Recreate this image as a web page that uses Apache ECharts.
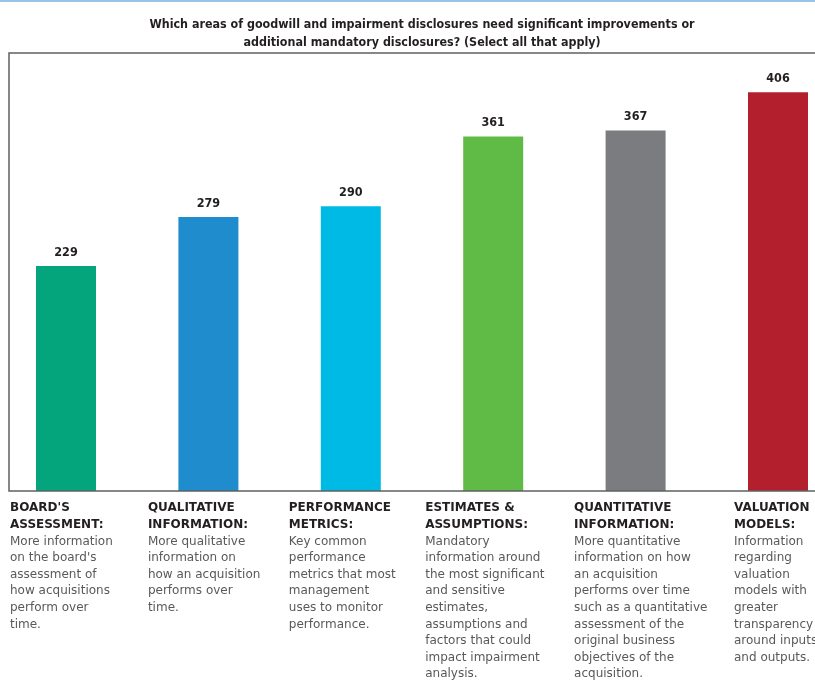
<!DOCTYPE html>
<html>
<head>
<meta charset="utf-8">
<script src="https://cdn.jsdelivr.net/npm/echarts@6/dist/echarts.min.js"></script>
<style>html,body{margin:0;padding:0;background:#fff}#c{width:815px;height:680px}</style>
</head>
<body>
<div id="c"></div>
<script>
const headers = [
  "BOARD'S\nASSESSMENT:",
  "QUALITATIVE\nINFORMATION:",
  "PERFORMANCE\nMETRICS:",
  "ESTIMATES &\nASSUMPTIONS:",
  "QUANTITATIVE\nINFORMATION:",
  "VALUATION\nMODELS:"
];
const descriptions = [
  "More information\non the board's\nassessment of\nhow acquisitions\nperform over\ntime.",
  "More qualitative\ninformation on\nhow an acquisition\nperforms over\ntime.",
  "Key common\nperformance\nmetrics that most\nmanagement\nuses to monitor\nperformance.",
  "Mandatory\ninformation around\nthe most significant\nand sensitive\nestimates,\nassumptions and\nfactors that could\nimpact impairment\nanalysis.",
  "More quantitative\ninformation on how\nan acquisition\nperforms over time\nsuch as a quantitative\nassessment of the\noriginal business\nobjectives of the\nacquisition.",
  "Information\nregarding\nvaluation\nmodels with\ngreater\ntransparency\naround inputs\nand outputs."
];
const values = [229, 279, 290, 361, 367, 406];
const palette = ['#04a57d', '#1f8dcd', '#00bae6', '#60bb46', '#7b7c80', '#b41f2e'];
const titleText = "Which areas of goodwill and impairment disclosures need significant improvements or\nadditional mandatory disclosures? (Select all that apply)";

const labelWidths = [112, 121, 124, 136, 123, 88];
const rich = {};
labelWidths.forEach((w, i) => {
  rich['h' + i] = {width: w, align: 'left', fontFamily: 'DejaVu Sans', fontWeight: 'bold', fontSize: 12, color: '#231f20', lineHeight: 16.6};
  rich['b' + i] = {width: w, align: 'left', fontFamily: 'DejaVu Sans', fontSize: 12, color: '#58595b', lineHeight: 16.6};
});

const chart = echarts.init(document.getElementById('c'), null, {renderer: 'canvas'});
chart.setOption({
  animation: false,
  backgroundColor: '#ffffff',
  title: {
    text: titleText,
    left: 417,
    textAlign: 'center',
    top: 11,
    textStyle: {fontFamily: 'DejaVu Sans Condensed', fontWeight: 'bold', fontSize: 12.4, color: '#231f20', lineHeight: 18}
  },
  graphic: [
    {type: 'line', shape: {x1: 0, y1: 1, x2: 815, y2: 1}, style: {stroke: '#9cc2e5', lineWidth: 2}},
    {type: 'rect', shape: {x: 9, y: 53, width: 830, height: 438}, style: {fill: 'none', stroke: '#5f6062', lineWidth: 1.5}, z: 10}
  ],
  grid: {left: 66, right: 37, top: 53, bottom: 189, outerBoundsMode: 'none', containLabel: false},
  xAxis: {
    type: 'category',
    boundaryGap: false,
    data: headers.map((h, i) => h + '\n' + descriptions[i]),
    axisLine: {show: false},
    axisTick: {show: false},
    axisLabel: {
      interval: 0,
      margin: 9,
      align: 'center',
      verticalAlign: 'top',
      hideOverlap: false,
      formatter: function (v, idx) {
        const nh = headers[idx].split('\n').length;
        return v.split('\n').map((l, k) => '{' + (k < nh ? 'h' : 'b') + idx + '|' + l + '}').join('\n');
      },
      rich: rich
    }
  },
  yAxis: {type: 'value', min: 0, max: 446, show: false, splitLine: {show: false}},
  series: [{
    type: 'bar',
    barWidth: 60,
    data: values.map((v, i) => ({value: v, itemStyle: {color: palette[i]}})),
    label: {
      show: true,
      position: 'top',
      distance: 7,
      fontFamily: 'DejaVu Sans Condensed',
      fontWeight: 'bold',
      fontSize: 12.5,
      color: '#231f20'
    }
  }]
});
</script>
</body>
</html>
